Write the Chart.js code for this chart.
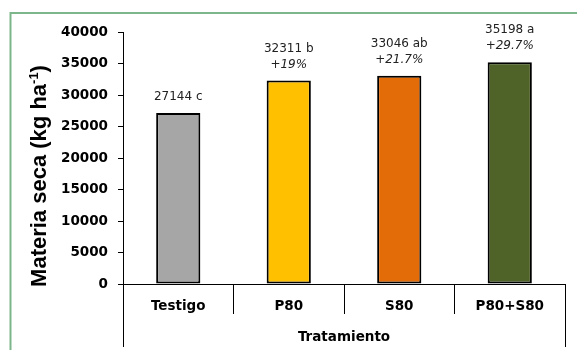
<!DOCTYPE html>
<html>
<head>
<meta charset="utf-8">
<script src="https://cdn.jsdelivr.net/npm/chart.js@4"></script>
<style>
  html, body { margin: 0; padding: 0; background: #fff; }
  #wrap { width: 577px; height: 350px; position: relative; }
</style>
</head>
<body>
<div id="wrap"><canvas id="chart" width="577" height="350"></canvas></div>
<script>
// Materia seca por tratamiento
const tratamientos = ['Testigo', 'P80', 'S80', 'P80+S80'];
const materiaSeca = [27144, 32311, 33046, 35198];
const letras = ['c', 'b', 'ab', 'a'];
const incrementos = ['', '+19%', '+21.7%', '+29.7%'];
const colores = ['#A6A6A6', '#FFC000', '#E36C09', '#4F6228'];

const tickFont = { family: 'DejaVu Sans', weight: 'bold', size: 13.5 };

// green frame, extended axis lines, y title and bar labels
const decor = {
  id: 'decor',
  beforeDraw(chart) {
    const { ctx } = chart;
    ctx.save();
    ctx.fillStyle = '#fff';
    ctx.fillRect(0, 0, chart.width, chart.height);
    ctx.strokeStyle = '#7DB68A';
    ctx.lineWidth = 2;
    ctx.beginPath();
    ctx.moveTo(10.5, chart.height + 5);
    ctx.lineTo(10.5, 13);
    ctx.lineTo(chart.width + 5, 13);
    ctx.stroke();
    ctx.restore();
  },
  afterDraw(chart) {
    const { ctx, chartArea } = chart;
    ctx.save();
    // outer lines of the category axis
    ctx.strokeStyle = '#000';
    ctx.lineWidth = 1;
    ctx.beginPath();
    [chartArea.left, chartArea.right].forEach(x => {
      const px = Math.round(x) + 0.5;
      ctx.moveTo(px, chartArea.bottom);
      ctx.lineTo(px, 347);
    });
    ctx.stroke();

    // y axis title with superscript
    ctx.translate(40, 176);
    ctx.rotate(-Math.PI / 2);
    ctx.fillStyle = '#000';
    ctx.textBaseline = 'middle';
    const big = 'bold 22px "Liberation Sans", Arial';
    const small = 'bold 13px "Liberation Sans", Arial';
    const a = 'Materia seca (kg ha', b = '-1', c = ')';
    ctx.font = big; const wa = ctx.measureText(a).width; const wc = ctx.measureText(c).width;
    ctx.font = small; const wb = ctx.measureText(b).width;
    let x = -(wa + wb + wc) / 2;
    ctx.font = big; ctx.textAlign = 'left';
    ctx.fillText(a, x, 0); x += wa;
    ctx.font = small; ctx.fillText(b, x, -6); x += wb;
    ctx.font = big; ctx.fillText(c, x, 0);
    ctx.restore();

    // labels above bars
    ctx.save();
    ctx.fillStyle = '#222';
    ctx.textAlign = 'center';
    ctx.textBaseline = 'middle';
    chart.getDatasetMeta(0).data.forEach((bar, i) => {
      const top = bar.y;
      ctx.font = '12px "DejaVu Sans"';
      if (incrementos[i]) {
        ctx.fillText(materiaSeca[i] + ' ' + letras[i], bar.x, top - 32);
        ctx.font = 'italic 12px "DejaVu Sans"';
        ctx.fillText(incrementos[i], bar.x, top - 16);
      } else {
        ctx.fillText(materiaSeca[i] + ' ' + letras[i], bar.x, top - 16);
      }
    });
    ctx.restore();
  }
};

new Chart(document.getElementById('chart'), {
  type: 'bar',
  data: {
    labels: tratamientos,
    datasets: [{
      data: materiaSeca,
      backgroundColor: colores,
      borderColor: '#000',
      borderWidth: 2,
      borderSkipped: false,
      barPercentage: 0.4,
      categoryPercentage: 1.0
    }]
  },
  options: {
    responsive: false,
    animation: false,
    layout: { padding: { top: 32, right: 12, left: 0, bottom: 0 } },
    plugins: { legend: { display: false }, tooltip: { enabled: false } },
    scales: {
      x: {
        afterFit(scale) { scale.height = 66; },
        grid: {
          offset: true,
          drawOnChartArea: false,
          tickLength: 30,
          color: '#000'
        },
        border: { color: '#000', width: 1 },
        ticks: { color: '#000', font: tickFont, padding: -16 },
        title: {
          display: true,
          text: 'Tratamiento',
          color: '#000',
          font: tickFont,
          padding: { top: 0, bottom: 4 }
        }
      },
      y: {
        min: 0,
        max: 40000,
        afterFit(scale) { scale.width = 123; },
        grid: { drawOnChartArea: false, tickLength: 5, color: '#000' },
        border: { color: '#000', width: 1 },
        ticks: {
          stepSize: 5000,
          color: '#000',
          font: tickFont,
          padding: 10,
          callback: v => String(v)
        }
      }
    }
  },
  plugins: [decor]
});
</script>
</body>
</html>
